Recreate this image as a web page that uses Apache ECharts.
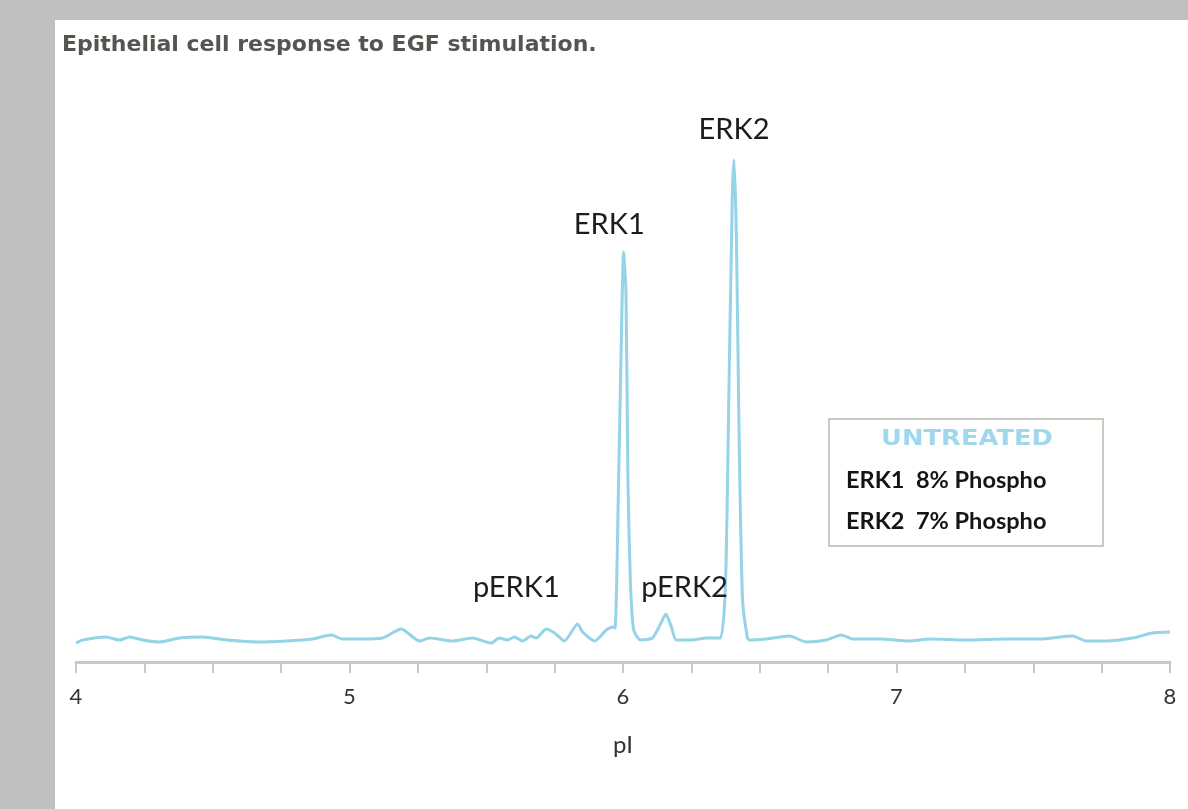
<!DOCTYPE html>
<html>
<head>
<meta charset="utf-8">
<script src="https://cdn.jsdelivr.net/npm/echarts@6/dist/echarts.min.js"></script>
<style>
  html, body { margin: 0; padding: 0; background: #c0c0c0; width: 1188px; height: 809px; overflow: hidden; }
  #chart { position: absolute; left: 55px; top: 20px; width: 1133px; height: 789px; background: #ffffff; }
</style>
</head>
<body>
<div id="chart"></div>
<script>
// Trace: isoelectric point (pI) and signal (arbitrary units)
const pI = [
  4.000, 4.024, 4.110, 4.159, 4.196, 4.243, 4.305, 4.378, 4.463, 4.550,
  4.671, 4.770, 4.865, 4.934, 4.974, 5.037, 5.121, 5.189, 5.256, 5.293,
  5.377, 5.450, 5.518, 5.548, 5.578, 5.603, 5.633, 5.664, 5.683, 5.719,
  5.750, 5.786, 5.834, 5.852, 5.896, 5.939, 5.963, 5.971, 5.984, 5.996,
  6.002, 6.011, 6.018, 6.027, 6.039, 6.064, 6.108, 6.139, 6.157, 6.176,
  6.195, 6.250, 6.306, 6.356, 6.375, 6.388, 6.400, 6.406, 6.415, 6.425,
  6.437, 6.455, 6.463, 6.525, 6.609, 6.670, 6.743, 6.798, 6.839, 6.938,
  7.047, 7.121, 7.255, 7.401, 7.523, 7.644, 7.694, 7.767, 7.863, 7.936,
  8.000
];
const signal = [
  19, 22, 25, 22, 25, 22, 20, 24, 25, 22,
  20, 21, 23, 27, 23, 23, 24, 33, 21, 24,
  21, 24, 19, 24, 22, 25, 21, 26, 24, 33,
  29, 21, 38, 30, 21, 32, 35, 34, 182, 352,
  410, 369, 182, 80, 32, 22, 24, 39, 48, 36,
  22, 22, 24, 24, 80, 284, 471, 502, 420, 216,
  63, 24, 22, 23, 26, 20, 22, 27, 23, 23,
  21, 23, 22, 23, 23, 26, 21, 21, 24, 29,
  30
];

// Axis ticks (pI)
const tickStep = 0.25;
const axisMin = 4;
const axisMax = 8;

// Peak annotations: name, pI, signal level of the label
const peakNames = ["ERK2", "ERK1", "pERK1", "pERK2"];
const peakPI    = [6.406, 5.950, 5.610, 6.225];
const peakLevel = [532, 437, 74, 74];

// Summary box
const boxTitle = "UNTREATED";
const boxRows = ["ERK1  8% Phospho", "ERK2  7% Phospho"];

const chart = echarts.init(document.getElementById('chart'), null, { renderer: 'canvas' });

const lineColor = '#94d3e8';
const axisColor = '#c9c9c0';

chart.setOption({
  backgroundColor: '#ffffff',
  animation: false,
  title: {
    text: 'Epithelial cell response to EGF stimulation.',
    left: 7, top: 14, padding: 0,
    textStyle: { fontFamily: 'DejaVu Sans', fontWeight: 'bold', fontSize: 22, color: '#55554f' }
  },
  grid: { left: 21, right: 18, top: 80, bottom: 147, containLabel: false },
  xAxis: {
    type: 'value', min: axisMin, max: axisMax, interval: tickStep,
    name: 'pI', nameLocation: 'middle', nameGap: 71,
    nameTextStyle: { fontFamily: 'Lato', fontSize: 24, color: '#333333' },
    axisLine: { show: true, onZero: false, lineStyle: { color: axisColor, width: 3 } },
    axisTick: { show: true, inside: false, length: 11, lineStyle: { color: axisColor, width: 2 } },
    axisLabel: {
      margin: 24, fontFamily: 'Lato', fontSize: 22, color: '#333333',
      formatter: v => (Math.abs(v - Math.round(v)) < 1e-6 ? String(Math.round(v)) : '')
    },
    splitLine: { show: false }
  },
  yAxis: {
    type: 'value', min: 0, max: 562, show: false,
    splitLine: { show: false }
  },
  series: [{
    type: 'line',
    data: pI.map((x, i) => [x, signal[i]]),
    showSymbol: false,
    smooth: 0.2,
    lineStyle: { color: lineColor, width: 3 },
    markPoint: {
      symbol: 'circle', symbolSize: 0,
      label: {
        show: true, position: 'inside', fontFamily: 'Lato', fontSize: 29, color: '#1c1c1c',
        formatter: p => p.name
      },
      data: peakNames.map((n, i) => ({ name: n, coord: [peakPI[i], peakLevel[i]] }))
    }
  }],
  graphic: [
    {
      type: 'rect', x: 774, y: 399,
      shape: { x: 0, y: 0, width: 274, height: 127 },
      style: { fill: '#ffffff', stroke: '#c9c9c0', lineWidth: 2 }
    },
    {
      type: 'text', x: 912, y: 419, scaleX: 1.17,
      style: { text: boxTitle, fontFamily: 'DejaVu Sans', fontWeight: 'bold', fontSize: 22,
               fill: '#9fd8ec', textAlign: 'center', textVerticalAlign: 'middle' }
    },
    {
      type: 'text', x: 791, y: 461, scaleX: 1.07,
      style: { text: boxRows[0], fontFamily: 'Lato', fontWeight: 'bold', fontSize: 22,
               fill: '#151515', textAlign: 'left', textVerticalAlign: 'middle' }
    },
    {
      type: 'text', x: 791, y: 502, scaleX: 1.07,
      style: { text: boxRows[1], fontFamily: 'Lato', fontWeight: 'bold', fontSize: 22,
               fill: '#151515', textAlign: 'left', textVerticalAlign: 'middle' }
    }
  ]
});
</script>
</body>
</html>
